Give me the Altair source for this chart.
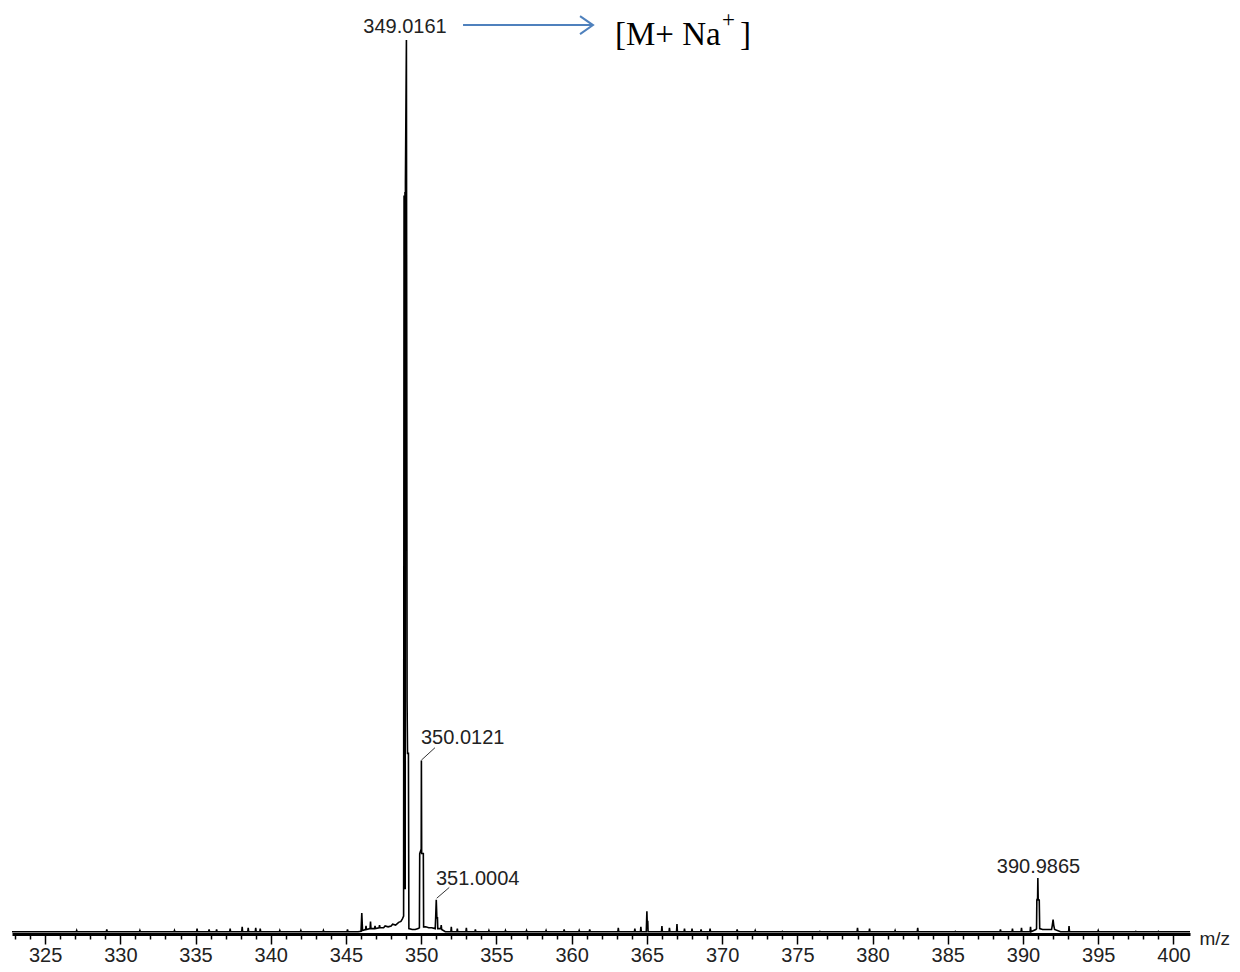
import altair as alt
import pandas as pd

# ---------------- data ----------------
# main cluster (345.8 - 351.6) profile
main_mz = [345.8, 346.0, 346.05, 346.1, 346.3, 346.33, 346.36, 346.6, 346.63, 346.66,
           346.9, 346.93, 346.96, 347.2, 347.23, 347.26, 347.5, 347.6, 347.8, 348.0,
           348.1, 348.3, 348.5, 348.65, 348.75, 348.83, 348.86, 348.875, 348.89, 348.905,
           348.92, 348.935, 348.95, 349.016, 349.06, 349.09, 349.15, 349.18, 349.4, 349.6,
           349.8, 349.88, 349.90, 350.00, 350.012, 350.03, 350.14, 350.16, 350.3, 350.5,
           350.7, 350.93, 350.96, 351.0004, 351.04, 351.08, 351.1, 351.3, 351.33, 351.36, 351.6]
main_int = [0.0025, 0.003, 0.0234, 0.004, 0.005, 0.009, 0.005, 0.006, 0.014, 0.006,
            0.006, 0.009, 0.006, 0.007, 0.010, 0.007, 0.007, 0.009, 0.008, 0.009,
            0.011, 0.010, 0.013, 0.014, 0.017, 0.020, 0.826, 0.05, 0.826, 0.05,
            0.83, 0.05, 0.84, 1.0, 0.26, 0.202, 0.202, 0.006, 0.005, 0.005,
            0.006, 0.007, 0.09, 0.095, 0.194, 0.09, 0.09, 0.008, 0.008, 0.007,
            0.007, 0.006, 0.018, 0.0383, 0.018, 0.018, 0.006, 0.006, 0.010, 0.005, 0.0025]

# peak near 365
p365_mz = [364.96, 364.98, 365.0, 365.02, 365.06, 365.08]
p365_int = [0.0025, 0.014, 0.0253, 0.014, 0.014, 0.0025]

# cluster near 391
p391_mz = [390.85, 390.90, 390.92, 390.97, 390.9865, 391.01, 391.08, 391.11, 391.3,
           391.9, 391.95, 392.0, 392.04, 392.1, 392.5]
p391_int = [0.005, 0.006, 0.038, 0.04, 0.0625, 0.038, 0.038, 0.006, 0.005,
            0.005, 0.010, 0.016, 0.010, 0.005, 0.0025]

# small noise spikes elsewhere
spike_mz = [327.1, 329.1, 331.3, 333.6, 335.1, 335.9, 336.4, 337.3, 338.1, 338.5,
            339.0, 339.3, 340.6, 342.0, 343.5, 345.1, 352.0, 352.4, 353.0, 353.6,
            354.5, 355.6, 357.0, 358.3, 359.5, 360.5, 361.2, 363.1, 364.2, 364.6,
            366.0, 366.5, 367.0, 367.5, 368.0, 368.6, 369.2, 371.0, 372.2, 374.0,
            376.5, 379.0, 379.8, 381.5, 383.0, 385.5, 388.5, 389.3, 389.9, 390.5,
            393.06, 395.0, 397.5, 399.0]
spike_int = [0.004, 0.005, 0.004, 0.004, 0.006, 0.005, 0.005, 0.006, 0.008, 0.007,
             0.007, 0.006, 0.004, 0.004, 0.004, 0.005, 0.008, 0.006, 0.007, 0.005,
             0.004, 0.004, 0.004, 0.004, 0.005, 0.004, 0.005, 0.007, 0.006, 0.008,
             0.009, 0.007, 0.011, 0.006, 0.006, 0.005, 0.006, 0.005, 0.004, 0.003,
             0.003, 0.007, 0.006, 0.004, 0.007, 0.003, 0.005, 0.006, 0.007, 0.008,
             0.009, 0.004, 0.003, 0.003]
base_level = 0.0025
range_mz = [322.8, 401.1]

# peak labels
lab_text = ["349.0161", "350.0121", "351.0004", "390.9865"]
lab_mz = [348.92, 349.985, 350.98, 391.03]
lab_int = [1.0078, 0.212, 0.055, 0.068]
lab_align = ["center", "left", "left", "center"]

# leader lines
lead_mz = [350.012, 351.03]
lead_int = [0.1945, 0.040]
lead_mz2 = [350.915, 351.866]
lead_int2 = [0.2084, 0.0521]

# annotation arrow and ion label
arrow_mz = [352.78, 361.35]
arrow_tip = 361.417
arrow_int = 1.0167
ion_text = ["[M+ Na", "+", "]"]
ion_mz = [362.88, 370.0, 371.19]
ion_int = [0.9944, 1.0140, 0.9944]
ion_size = [33, 23, 33]

ticks = list(range(323, 401))

# ---------------- build tables ----------------
rows = []
for m, v in zip(main_mz, main_int):
    rows.append((m, v))
for m, v in zip(p365_mz, p365_int):
    rows.append((m, v))
for m, v in zip(p391_mz, p391_int):
    rows.append((m, v))
for m, v in zip(spike_mz, spike_int):
    rows.append((m - 0.03, base_level))
    rows.append((m, v))
    rows.append((m + 0.03, base_level))
for m in range_mz:
    rows.append((m, base_level))
spec = pd.DataFrame(rows, columns=["mz", "i"]).sort_values("mz").reset_index(drop=True)

labels = pd.DataFrame({"t": lab_text, "mz": lab_mz, "i": lab_int, "a": lab_align})
leads = pd.DataFrame({"mz": lead_mz, "i": lead_int, "mz2": lead_mz2, "i2": lead_int2})
arrow = pd.DataFrame({"mz": [arrow_mz[0]], "mz2": [arrow_mz[1]], "i": [arrow_int]})
tip = pd.DataFrame({"mz": [arrow_tip], "i": [arrow_int]})
ion = pd.DataFrame({"t": ion_text, "mz": ion_mz, "i": ion_int, "s": ion_size})

xs = alt.Scale(domain=range_mz, nice=False, zero=False)
ys = alt.Scale(domain=[0, 1.0358], nice=False, zero=False)

xaxis = alt.Axis(
    values=ticks,
    labelExpr="datum.value % 5 === 0 ? datum.label : ''",
    labelOverlap=False,
    labelFlush=False,
    tickSize=10,
    tickWidth=1.5,
    tickColor="black",
    tickDash={"condition": {"test": "datum.value % 5 === 0", "value": [10, 0]}, "value": [5, 10]},
    domainWidth=3,
    domainColor="black",
    labelPadding=1,
    labelFont="Liberation Sans",
    labelFontSize=20,
    labelColor="#222",
    grid=False,
    title="m/z",
    titleX=1187,
    titleY=10,
    titleAlign="left",
    titleBaseline="alphabetic",
    titleFont="Liberation Sans",
    titleFontSize=19,
    titleFontWeight="normal",
    titleColor="#222",
)


def X(field="mz"):
    return alt.X(f"{field}:Q", scale=xs, axis=xaxis, title="m/z")


def Y(field="i"):
    return alt.Y(f"{field}:Q", scale=ys, axis=None)


line = alt.Chart(spec).mark_line(color="black", strokeWidth=1.6).encode(
    x=X(), y=Y(), order="mz:Q",
)


def text_layer(align):
    return alt.Chart(labels[labels.a == align]).mark_text(
        align=align, baseline="alphabetic", font="Liberation Sans", fontSize=20, color="#222"
    ).encode(x=X(), y=Y(), text="t:N")


leaders = alt.Chart(leads).mark_rule(color="#333", strokeWidth=1).encode(
    x=X(), x2="mz2:Q", y=Y(), y2="i2:Q",
)

shaft = alt.Chart(arrow).mark_rule(color="#4f81bd", strokeWidth=2).encode(
    x=X(), x2="mz2:Q", y=Y(),
)

head = alt.Chart(tip).mark_point(
    shape="M -1.44 -1 L 0 0 L -1.44 1", filled=False, size=324,
    stroke="#4f81bd", strokeWidth=2, opacity=1,
).encode(x=X(), y=Y())

ion_text_layer = alt.Chart(ion).mark_text(
    align="left", baseline="alphabetic", font="Liberation Serif", color="black"
).encode(
    x=X(), y=Y(), text="t:N",
    size=alt.Size("s:Q", scale=None, legend=None),
)

chart = alt.layer(
    line, leaders, text_layer("center"), text_layer("left"), shaft, head, ion_text_layer
).properties(
    width=1178,
    height=926,
    autosize=alt.AutoSizeParams(type="none"),
    padding={"left": 4, "top": 0, "right": 42, "bottom": 30},
    background="white",
).configure_view(stroke=None)

chart.save("out.html", embed_options={"renderer": "svg", "actions": False})
